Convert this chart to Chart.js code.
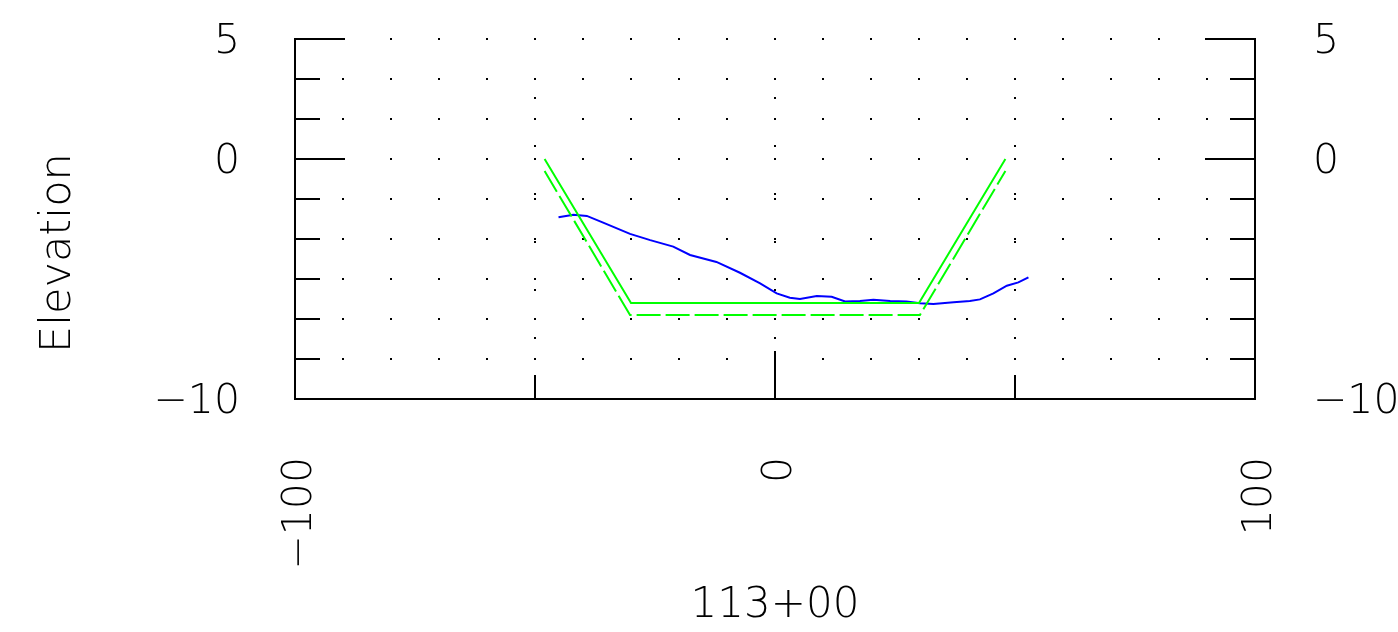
<!DOCTYPE html>
<html>
<head>
<meta charset="utf-8">
<script src="https://cdn.jsdelivr.net/npm/chart.js@4/dist/chart.umd.min.js"></script>
<style>
  html, body { margin: 0; padding: 0; background: #ffffff; }
  #wrap { width: 1398px; height: 632px; position: relative; }
</style>
</head>
<body>
<div id="wrap"><canvas id="c" width="1398" height="632"></canvas></div>
<script>
// ---- data ----
const groundX = [-45.1, -42.0, -39.2, -35.8, -30.2, -26.0, -21.2, -17.7, -12.2, -7.3, -3.1, 0.35, 3.1, 5.2, 8.7, 11.8, 14.6, 17.7, 20.5, 24.0, 27.4, 30.2, 33.0, 37.2, 40.6, 42.7, 45.5, 48.3, 50.7, 52.8];
const groundY = [-2.43, -2.32, -2.37, -2.65, -3.12, -3.38, -3.65, -4.00, -4.29, -4.74, -5.18, -5.60, -5.78, -5.83, -5.71, -5.74, -5.94, -5.92, -5.86, -5.92, -5.94, -6.01, -6.04, -5.97, -5.92, -5.85, -5.60, -5.28, -5.14, -4.93];
const designX = [-48, -30, 30, 48];
const designY = [0, -6, -6, 0];
const subgradeX = [-48, -30.2, 30.2, 48];
const subgradeY = [-0.5, -6.5, -6.5, -0.5];
const xTickLabels = [-100, 0, 100];
const yTickLabels = [-10, 0, 5];
const yMinorTicks = [5, 10/3, 5/3, 0, -5/3, -10/3, -5, -20/3, -25/3, -10];
const xDotCols = [-90, -80, -70, -60, -50, -40, -30, -20, -10, 0, 10, 20, 30, 40, 50, 60, 70, 80, 90];
const xMajorBottom = [-50, 0, 50];
const xAxisTitle = '113+00';
const yAxisTitle = 'Elevation';

const FONT = "'DejaVu Sans', sans-serif";
const fmt = v => (v < 0 ? '\u2212' + Math.abs(v) : String(v));
const pts = (xs, ys) => xs.map((x, i) => ({ x: x, y: ys[i] }));
const noPad = s => { s.paddingTop = 0; s.paddingBottom = 0; s.paddingLeft = 0; s.paddingRight = 0; };

const decor = {
  id: 'decor',
  beforeDatasetsDraw(chart) {
    const ctx = chart.ctx;
    const xs = chart.scales.x, ys = chart.scales.y;
    const L = xs.left, R = xs.right;
    ctx.save();
    ctx.fillStyle = '#000';
    yMinorTicks.forEach(v => {
      if (v <= -10) return;
      const py = ys.getPixelForValue(v);
      xDotCols.forEach(xv => {
        const px = xs.getPixelForValue(xv);
        ctx.fillRect(Math.round(px) - 1, Math.round(py) - 1, 2, 2);
      });
    });
    xMajorBottom.forEach(xv => {
      const px = xs.getPixelForValue(xv);
      [2.55, 0.55, -1.45, -3.45, -5.45, -7.45].forEach(v => {
        const py = ys.getPixelForValue(v);
        ctx.fillRect(Math.round(px) - 1, Math.round(py) - 1, 2, 2);
      });
    });
    ctx.strokeStyle = '#000';
    ctx.lineWidth = 2;
    yMinorTicks.forEach(v => {
      const py = Math.round(ys.getPixelForValue(v));
      const len = yTickLabels.includes(Math.round(v * 1000) / 1000) ? 50 : 25;
      ctx.beginPath();
      ctx.moveTo(L, py); ctx.lineTo(L + len, py);
      ctx.moveTo(R, py); ctx.lineTo(R - len, py);
      ctx.stroke();
    });
    const b = ys.getPixelForValue(-10);
    xMajorBottom.forEach(xv => {
      const px = Math.round(xs.getPixelForValue(xv));
      const len = xv === 0 ? 48 : 24;
      ctx.beginPath();
      ctx.moveTo(px, b); ctx.lineTo(px, b - len);
      ctx.stroke();
    });
    ctx.restore();
  }
};

new Chart(document.getElementById('c'), {
  type: 'scatter',
  data: {
    datasets: [
      { data: pts(designX, designY), showLine: true, borderColor: '#00ff00', borderWidth: 2, pointRadius: 0, fill: false },
      { data: pts(subgradeX, subgradeY), showLine: true, borderColor: '#00ff00', borderWidth: 2, borderDash: [24, 5], pointRadius: 0, fill: false },
      { data: pts(groundX, groundY), showLine: true, borderColor: '#0000ff', borderWidth: 2, pointRadius: 0, fill: false }
    ]
  },
  options: {
    responsive: false,
    animation: false,
    devicePixelRatio: 1,
    layout: { padding: { top: 39, left: 0, right: 0, bottom: 0 } },
    plugins: { legend: { display: false }, tooltip: { enabled: false } },
    scales: {
      x: {
        type: 'linear', position: 'bottom', min: -100, max: 100,
        afterBuildTicks: s => { s.ticks = xTickLabels.map(v => ({ value: v })); },
        afterFit: s => { s.height = 233; noPad(s); },
        grid: { display: false, drawTicks: false },
        border: { display: true, color: '#000', width: 2 },
        ticks: { minRotation: 90, maxRotation: 90, padding: 58, labelOffset: 5, color: '#000', font: { family: FONT, size: 41, weight: 200 }, callback: v => fmt(v) },
        title: { display: true, text: xAxisTitle, color: '#000', font: { family: FONT, size: 42, weight: 200 }, padding: { top: 0, bottom: 1 } }
      },
      y: {
        type: 'linear', position: 'left', min: -10, max: 5,
        afterBuildTicks: s => { s.ticks = yTickLabels.map(v => ({ value: v })); },
        afterFit: s => { s.width = 295; noPad(s); },
        grid: { display: false, drawTicks: false },
        border: { display: true, color: '#000', width: 2 },
        ticks: { padding: 55, labelOffset: 3, color: '#000', font: { family: FONT, size: 41, weight: 200 }, callback: v => fmt(v) },
        title: { display: true, text: yAxisTitle + '\u00a0\u00a0\u00a0\u00a0\u00a0', color: '#000', font: { family: FONT, size: 43, weight: 200 }, padding: { top: 33, bottom: 0 } }
      },
      y2: {
        type: 'linear', position: 'right', min: -10, max: 5,
        afterBuildTicks: s => { s.ticks = yTickLabels.map(v => ({ value: v })); },
        afterFit: s => { s.width = 143; noPad(s); },
        grid: { display: false, drawTicks: false },
        border: { display: true, color: '#000', width: 2 },
        ticks: { padding: 58, labelOffset: 3, color: '#000', font: { family: FONT, size: 41, weight: 200 }, callback: v => fmt(v) }
      }
    }
  },
  plugins: [decor]
});
</script>
</body>
</html>
